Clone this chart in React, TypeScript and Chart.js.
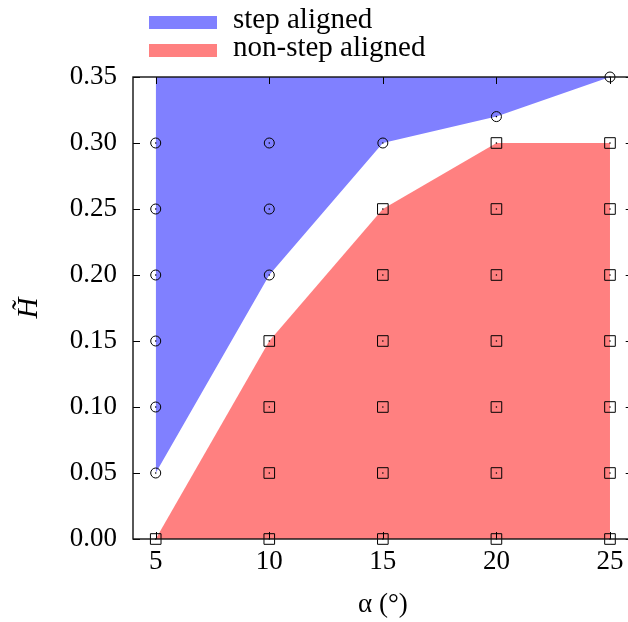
import React, { useEffect, useRef } from 'react';
import { Chart, registerables } from 'chart.js';

Chart.register(...registerables);

// Boundaries of the two regions
const alphaBoundary = [5, 10, 15, 20, 25];
const stepAlignedLower = [0.05, 0.2, 0.3, 0.32, 0.35];
const nonStepAlignedUpper = [0.0, 0.15, 0.25, 0.3, 0.3];

// Sampled points (circles: step aligned, squares: non-step aligned)
const stepAlpha = [5, 5, 5, 5, 5, 5, 10, 10, 10, 15, 20, 25];
const stepH = [0.05, 0.1, 0.15, 0.2, 0.25, 0.3, 0.2, 0.25, 0.3, 0.3, 0.32, 0.35];
const nonStepAlpha = [
  5,
  10, 10, 10, 10,
  15, 15, 15, 15, 15, 15,
  20, 20, 20, 20, 20, 20, 20,
  25, 25, 25, 25, 25, 25, 25,
];
const nonStepH = [
  0,
  0, 0.05, 0.1, 0.15,
  0, 0.05, 0.1, 0.15, 0.2, 0.25,
  0, 0.05, 0.1, 0.15, 0.2, 0.25, 0.3,
  0, 0.05, 0.1, 0.15, 0.2, 0.25, 0.3,
];

const xTicks = [5, 10, 15, 20, 25];
const yTicks = [0, 0.05, 0.1, 0.15, 0.2, 0.25, 0.3, 0.35];
const xMin = 4;
const xMax = 26;
const yMin = 0;
const yMax = 0.35;
const xLabel = 'α (°)';
const yLabel = 'H\u0303';
const seriesLabels = ['step aligned', 'non-step aligned'];
const seriesColors = ['#8080ff', '#ff8080'];

const FONT = '"Liberation Serif"';

const zip = (xs: number[], ys: number[]) => xs.map((x, i) => ({ x, y: ys[i] }));

const framePlugin = {
  id: 'frameTicks',
  afterDatasetsDraw(chart: any) {
    const { ctx, chartArea } = chart;
    const { left, right, top, bottom } = chartArea;
    const xs = chart.scales.x;
    const ys = chart.scales.y;
    const tl = 7;
    ctx.save();
    ctx.strokeStyle = '#000';
    ctx.lineWidth = 1;
    ctx.beginPath();
    xTicks.forEach((v) => {
      const px = Math.round(xs.getPixelForValue(v)) + 0.5;
      ctx.moveTo(px, bottom);
      ctx.lineTo(px, bottom - tl);
      ctx.moveTo(px, top);
      ctx.lineTo(px, top + tl);
    });
    yTicks.forEach((v) => {
      const py = Math.round(ys.getPixelForValue(v)) + 0.5;
      ctx.moveTo(left, py);
      ctx.lineTo(left + tl, py);
      ctx.moveTo(right, py);
      ctx.lineTo(right - tl, py);
    });
    ctx.stroke();
    ctx.lineWidth = 1.4;
    ctx.strokeStyle = '#111';
    ctx.strokeRect(left, top, right - left, bottom - top);
    ctx.restore();
  },
};

const legendPlugin = {
  id: 'customLegend',
  afterDraw(chart: any) {
    const { ctx } = chart;
    ctx.save();
    ctx.font = `29px ${FONT}`;
    ctx.textBaseline = 'alphabetic';
    ctx.textAlign = 'left';
    seriesLabels.forEach((label, i) => {
      const rowTop = 16 + i * 28;
      ctx.fillStyle = seriesColors[i];
      ctx.fillRect(149, rowTop, 68, 13);
      ctx.fillStyle = '#000';
      ctx.fillText(label, 233, rowTop + 12);
    });
    ctx.restore();
  },
};

export default function App() {
  const ref = useRef<HTMLCanvasElement | null>(null);

  useEffect(() => {
    if (!ref.current) return;
    Chart.defaults.color = '#000';
    const chart = new Chart(ref.current, {
      type: 'scatter',
      data: {
        datasets: [
          {
            label: 'step points',
            data: zip(stepAlpha, stepH),
            pointStyle: 'circle',
            pointRadius: 5,
            borderColor: '#000',
            borderWidth: 1,
            backgroundColor: 'rgba(0,0,0,0)',
            clip: false,
            order: 2,
          } as any,
          {
            label: 'step centers',
            data: zip(stepAlpha, stepH),
            pointStyle: 'circle',
            pointRadius: 0.8,
            borderWidth: 0,
            backgroundColor: '#000',
            clip: false,
            order: 1,
          } as any,
          {
            label: 'non-step points',
            data: zip(nonStepAlpha, nonStepH),
            pointStyle: 'rect',
            pointRadius: 7.5,
            borderColor: '#000',
            borderWidth: 1,
            backgroundColor: 'rgba(0,0,0,0)',
            clip: false,
            order: 2,
          } as any,
          {
            label: 'non-step centers',
            data: zip(nonStepAlpha, nonStepH),
            pointStyle: 'circle',
            pointRadius: 0.8,
            borderWidth: 0,
            backgroundColor: '#000',
            clip: false,
            order: 1,
          } as any,
          {
            label: seriesLabels[0],
            data: zip(alphaBoundary, stepAlignedLower),
            showLine: true,
            pointRadius: 0,
            borderWidth: 0,
            borderColor: 'rgba(0,0,0,0)',
            backgroundColor: seriesColors[0],
            fill: 'end',
            order: 5,
          } as any,
          {
            label: seriesLabels[1],
            data: zip(alphaBoundary, nonStepAlignedUpper),
            showLine: true,
            pointRadius: 0,
            borderWidth: 0,
            borderColor: 'rgba(0,0,0,0)',
            backgroundColor: seriesColors[1],
            fill: 'start',
            order: 5,
          } as any,
        ],
      },
      options: {
        responsive: false,
        animation: false,
        events: [],
        layout: { padding: { left: 0, top: 77, right: 27.3, bottom: 0 } },
        plugins: {
          legend: { display: false },
          tooltip: { enabled: false },
        },
        scales: {
          x: {
            type: 'linear',
            min: xMin,
            max: xMax,
            grid: { display: false, drawTicks: false },
            border: { display: false },
            afterBuildTicks: (s: any) => {
              s.ticks = xTicks.map((v) => ({ value: v }));
            },
            afterFit: (s: any) => {
              s.height = 83;
            },
            ticks: {
              padding: 7,
              maxRotation: 0,
              autoSkip: false,
              font: { family: FONT, size: 27 },
              callback: (v: any) => String(v),
            },
            title: {
              display: true,
              text: xLabel,
              font: { family: FONT, size: 27 },
              padding: { top: 0, bottom: 1 },
            },
          },
          y: {
            type: 'linear',
            min: yMin,
            max: yMax,
            grid: { display: false, drawTicks: false },
            border: { display: false },
            afterBuildTicks: (s: any) => {
              s.ticks = yTicks.map((v) => ({ value: v }));
            },
            afterFit: (s: any) => {
              s.width = 133;
            },
            ticks: {
              padding: 16,
              autoSkip: false,
              font: { family: FONT, size: 27 },
              callback: (v: any) => Number(v).toFixed(2),
            },
            title: {
              display: true,
              text: yLabel,
              font: { family: FONT, size: 29, style: 'italic' },
              padding: { top: 12, bottom: 0 },
            },
          },
        },
      } as any,
      plugins: [framePlugin, legendPlugin],
    });
    return () => chart.destroy();
  }, []);

  return (
    <div
      style={{
        position: 'absolute',
        left: 0,
        top: 0,
        width: 628,
        height: 622,
        overflow: 'hidden',
        background: '#fff',
      }}
    >
      <canvas ref={ref} width={660} height={622} style={{ display: 'block' }} />
    </div>
  );
}
